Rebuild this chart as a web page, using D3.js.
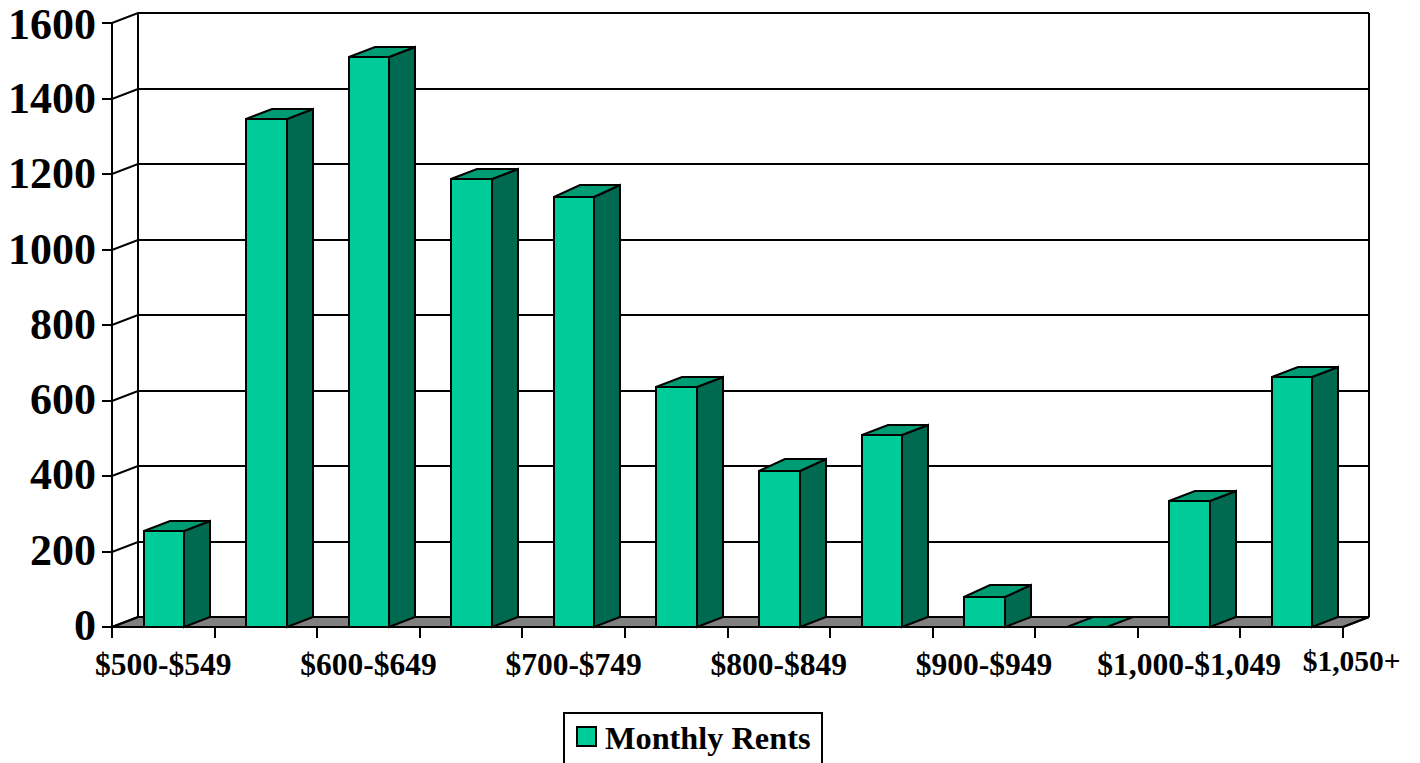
<!DOCTYPE html>
<html><head><meta charset="utf-8">
<script src="https://cdn.jsdelivr.net/npm/d3@7"></script>
<style>html,body{margin:0;padding:0;background:#fff;overflow:hidden}svg{display:block}text{font-family:"Liberation Serif",serif;font-weight:bold;fill:#000}</style>
</head><body><svg id="c" width="1420" height="763"></svg>
<script>
const categories=["$500-$549","$550-$599","$600-$649","$650-$699","$700-$749","$750-$799","$800-$849","$850-$899","$900-$949","$950-$999","$1,000-$1,049","$1,050+"];
const rents=[254,1346,1510,1187,1139,636,413,509,79,0,334,662];
const shownLabels=["$500-$549","$600-$649","$700-$749","$800-$849","$900-$949","$1,000-$1,049","$1,050+"];
const yTicks=[0,200,400,600,800,1000,1200,1400,1600];
const seriesName="Monthly Rents";
const deeperTops=new Set(["$700-$749","$800-$849","$900-$949"]);
const dx=26,dy=-10,barW=40.5,barOff=31.5;
const c={front:"#00CC99",side:"#006A50",top:"#009C74",floor:"#808080"};
const svg=d3.select("#c");
const x=d3.scaleBand().domain(categories).range([112,1343]);
const y=d3.scaleLinear().domain([0,1600]).range([627,23]);
const labelDrop=d3.scaleLinear().domain([0,1400,1600]).range([13,14.5,16]);
const L=x.range()[0],R=x.range()[1],Y0=y(0);
const r=Math.round;
const poly=p=>p.map(d=>d.join(",")).join(" ");
const ln={stroke:"#000","stroke-width":2,"stroke-linejoin":"miter"};
function st(s,o){Object.entries(o).forEach(([k,v])=>s.attr(k,v));return s;}
// floor
st(svg.append("polygon").attr("points",poly([[L,Y0],[L+dx,Y0+dy],[R+dx,Y0+dy],[R,Y0]])).attr("fill",c.floor),ln);
// grid on walls
yTicks.forEach(t=>{
  const yy=r(y(t));
  st(svg.append("polyline").attr("fill","none").attr("points",poly([[L-10,yy],[L,yy],[L+dx,yy+dy],[R+dx,yy+dy]])),ln);
});
st(svg.append("line").attr("x1",L).attr("x2",L).attr("y1",y(1600)).attr("y2",Y0),ln);
st(svg.append("line").attr("x1",L+dx).attr("x2",L+dx).attr("y1",y(1600)+dy).attr("y2",Y0+dy),ln);
st(svg.append("line").attr("x1",R+dx).attr("x2",R+dx).attr("y1",y(1600)+dy).attr("y2",Y0+dy),ln);
// x axis and ticks
st(svg.append("line").attr("x1",L).attr("x2",R).attr("y1",Y0).attr("y2",Y0),ln);
categories.forEach(k=>st(svg.append("line").attr("x1",r(x(k))).attr("x2",r(x(k))).attr("y1",Y0).attr("y2",Y0+11),ln));
st(svg.append("line").attr("x1",R).attr("x2",R).attr("y1",Y0).attr("y2",Y0+11),ln);
st(svg.append("line").attr("x1",R).attr("x2",R+dx).attr("y1",Y0).attr("y2",Y0+dy),ln);
// bars
categories.forEach((k,i)=>{
  const a=r(x(k)+barOff),b=r(x(k)+barOff+barW),t=r(y(rents[i]));
  const d=deeperTops.has(k)?dy-2:dy;
  if(rents[i]>0){
    st(svg.append("polygon").attr("fill",c.side).attr("points",poly([[b,t],[b+dx,t+d],[b+dx,Y0+dy],[b,Y0]])),ln);
    st(svg.append("rect").attr("fill",c.front).attr("x",a).attr("y",t).attr("width",b-a).attr("height",Y0-t),ln);
  }
  st(svg.append("polygon").attr("fill",c.top).attr("points",poly([[a,t],[a+dx,t+d],[b+dx,t+d],[b,t]])),ln);
});
// y labels
yTicks.forEach(t=>svg.append("text").attr("x",96).attr("y",y(t)+labelDrop(t)).attr("text-anchor","end").attr("font-size",44).text(t));
// x labels
shownLabels.forEach(k=>{
  const last=k==="$1,050+";
  svg.append("text").attr("x",x(k)+x.bandwidth()/2+(last?60:0)).attr("y",last?671:675).attr("text-anchor","middle").attr("font-size",last?29.5:31.5).text(k);
});
// legend
st(svg.append("rect").attr("x",564).attr("y",713).attr("width",258).attr("height",60).attr("fill","#fff"),ln);
st(svg.append("rect").attr("x",577).attr("y",727).attr("width",19).attr("height",19).attr("fill",c.front),ln);
svg.append("text").attr("x",605).attr("y",749).attr("font-size",32.3).text(seriesName);
</script></body></html>
